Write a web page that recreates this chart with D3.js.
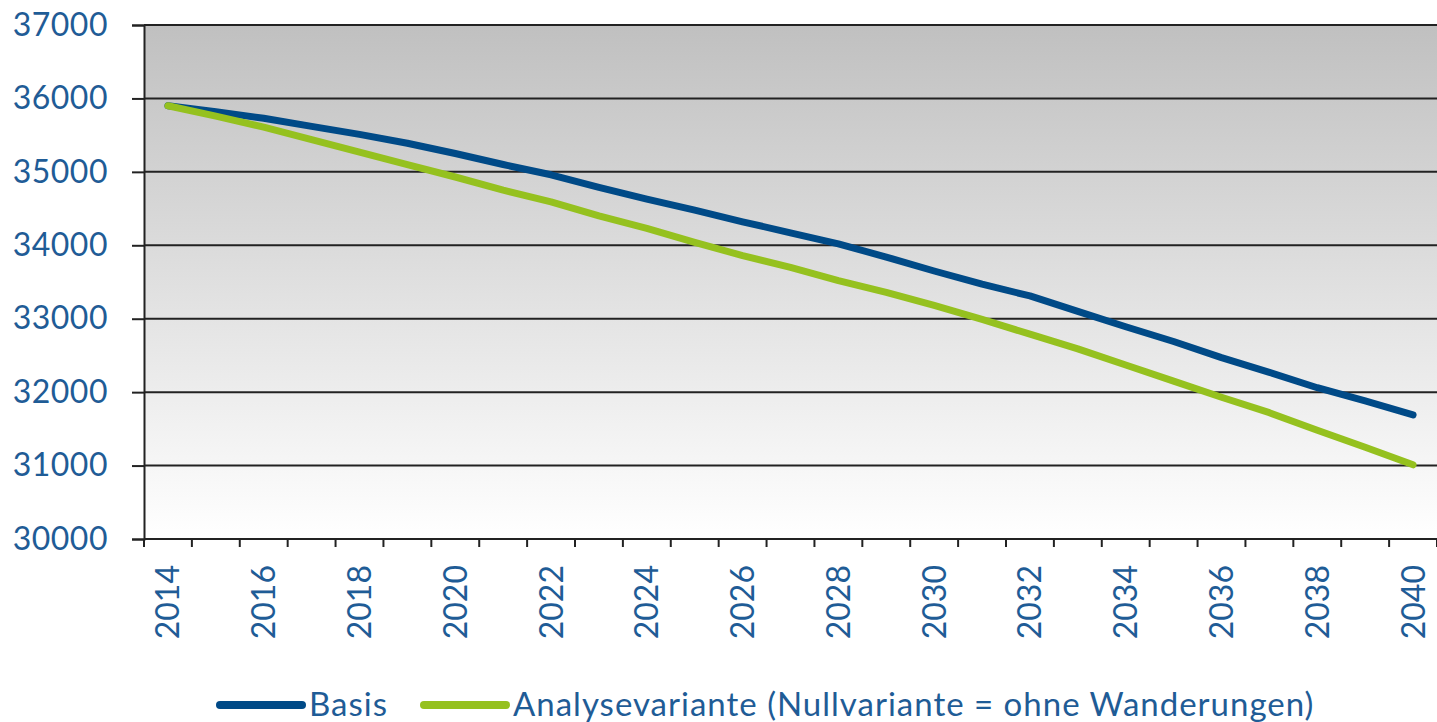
<!DOCTYPE html>
<html>
<head>
<meta charset="utf-8">
<script src="https://cdn.jsdelivr.net/npm/d3@7"></script>
<style>
  body { margin: 0; background: #fff; }
  svg { display: block; font-family: Lato, sans-serif; }
</style>
</head>
<body>
<div id="chart"></div>
<script>
// data
const years = d3.range(2014, 2041);
const basis = [35900, 35820, 35730, 35620, 35510, 35390, 35250, 35100, 34960, 34790,
               34630, 34480, 34320, 34170, 34020, 33840, 33650, 33470, 33310, 33100,
               32890, 32690, 32470, 32270, 32060, 31880, 31690];
const nullvariante = [35900, 35760, 35610, 35440, 35270, 35100, 34930, 34750, 34590, 34400,
                      34230, 34040, 33860, 33700, 33520, 33360, 33180, 32990, 32790, 32590,
                      32370, 32150, 31930, 31720, 31480, 31250, 31010];
const yTicks = [30000, 31000, 32000, 33000, 34000, 35000, 36000, 37000];
const labelYears = years.filter(y => y % 2 === 0);
const seriesNames = ["Basis", "Analysevariante (Nullvariante = ohne Wanderungen)"];
const seriesColors = ["#004a87", "#95c11f"];

const W = 1437, H = 722;
const margin = { top: 25, right: 0, bottom: 183, left: 144 };
const width = W - margin.left - margin.right;
const height = H - margin.top - margin.bottom;
const textColor = "#1f5c96";

const svg = d3.select("#chart").append("svg")
    .attr("width", W)
    .attr("height", H);

// grey to white background gradient
const grad = svg.append("defs").append("linearGradient")
    .attr("id", "bg").attr("x1", 0).attr("y1", 0).attr("x2", 0).attr("y2", 1);
grad.append("stop").attr("offset", "0%").attr("stop-color", "#c0c0c0");
grad.append("stop").attr("offset", "100%").attr("stop-color", "#ffffff");

const g = svg.append("g").attr("transform", `translate(${margin.left},${margin.top})`);

g.append("rect")
    .attr("width", width).attr("height", height)
    .attr("fill", "url(#bg)");

const x = d3.scaleBand().domain(years).range([0, width]);
const y = d3.scaleLinear().domain([30000, 37000]).range([height, 0]);

// gridlines
g.append("g").selectAll("line").data(yTicks).join("line")
    .attr("x1", 0).attr("x2", width)
    .attr("y1", d => y(d)).attr("y2", d => y(d))
    .attr("stroke", "#222").attr("stroke-width", 2);

// y axis
const yAxis = g.append("g")
    .call(d3.axisLeft(y).tickValues(yTicks).tickSize(12).tickPadding(24).tickFormat(d3.format("d")));
yAxis.select(".domain").attr("stroke", "#222").attr("stroke-width", 2);
yAxis.selectAll(".tick line").attr("stroke", "#222").attr("stroke-width", 2);
yAxis.selectAll(".tick text")
    .attr("fill", textColor)
    .style("font-size", "32px")
    .style("letter-spacing", "0.5px")
    .style("font-family", "Lato, sans-serif");

// x axis: ticks on band boundaries, labels every second year
const xg = g.append("g").attr("transform", `translate(0,${height})`);
xg.append("line").attr("x1", 0).attr("x2", width)
    .attr("stroke", "#222").attr("stroke-width", 2);
xg.selectAll("line.tk").data(years.concat([null])).join("line")
    .attr("class", "tk")
    .attr("x1", (d, i) => i * x.step()).attr("x2", (d, i) => i * x.step())
    .attr("y1", 0).attr("y2", 8)
    .attr("stroke", "#222").attr("stroke-width", 2);
xg.selectAll("text").data(labelYears).join("text")
    .attr("transform", d => `translate(${x(d) + x.bandwidth() / 2},26) rotate(-90)`)
    .attr("dy", "0.36em")
    .attr("text-anchor", "end")
    .attr("fill", textColor)
    .style("font-size", "32px")
    .text(d => d);

// lines
const line = d3.line()
    .x((d, i) => x(years[i]) + x.bandwidth() / 2)
    .y(d => y(d));

[basis, nullvariante].forEach((s, i) => {
    g.append("path")
        .datum(s)
        .attr("d", line)
        .attr("fill", "none")
        .attr("stroke", seriesColors[i])
        .attr("stroke-width", 7)
        .attr("stroke-linecap", "round")
        .attr("stroke-linejoin", "round");
});

// legend
const legend = svg.append("g").attr("transform", "translate(0,705)");
const legendX = [220, 424];
seriesNames.forEach((name, i) => {
    legend.append("line")
        .attr("x1", legendX[i]).attr("x2", legendX[i] + 82)
        .attr("stroke", seriesColors[i])
        .attr("stroke-width", 8)
        .attr("stroke-linecap", "round");
    legend.append("text")
        .attr("x", legendX[i] + 89)
        .attr("y", 11)
        .attr("fill", textColor)
        .style("font-size", "33px")
        .style("letter-spacing", "1px")
        .text(name);
});
</script>
</body>
</html>
